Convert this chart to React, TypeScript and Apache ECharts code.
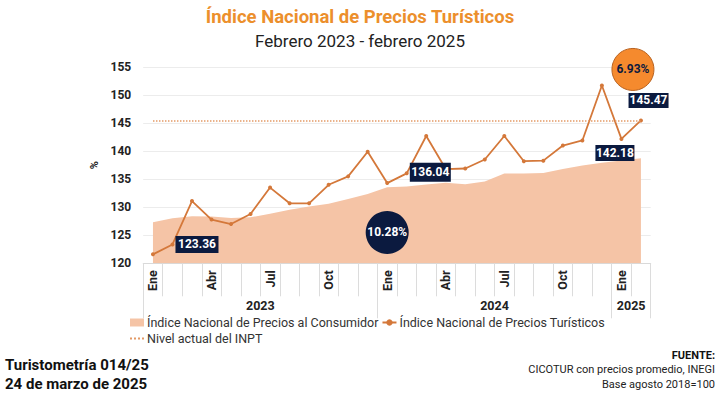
import React, { useEffect, useRef } from "react";
import * as echarts from "echarts";

const months = ["Ene","Feb","Mar","Abr","May","Jun","Jul","Ago","Sep","Oct","Nov","Dic","Ene","Feb","Mar","Abr","May","Jun","Jul","Ago","Sep","Oct","Nov","Dic","Ene","Feb"];
const yearLabels: Record<number, string> = { 6: "2023", 18: "2024", 25: "2025" };
const inpc = [127.34,128.05,128.39,128.36,128.08,128.21,128.83,129.55,130.12,130.61,131.45,132.37,133.56,133.68,134.07,134.34,134.09,134.59,136.0,136.01,136.08,136.83,137.42,137.95,138.34,138.73];
const inpt = [121.6,123.36,131.1,127.8,127.0,128.8,133.5,130.7,130.7,134.0,135.5,139.9,134.3,136.04,142.7,136.8,136.9,138.5,142.7,138.2,138.3,141.0,141.9,151.7,142.18,145.47];
const yTicks = { min: 120, max: 155, interval: 5 };

const NAVY = "#0b1a3f";
const LINE = "#d4783a";
const AREA = "#f5c4a6";
const FONT = "Roboto";

export default function App() {
  const ref = useRef<HTMLDivElement>(null);
  useEffect(() => {
    if (!ref.current) return;
    const chart = echarts.init(ref.current, null, { renderer: "svg" });
    const last = inpt.length - 1;
    const current = inpt[last];
    const pct1 = ((inpt[13] / inpt[1] - 1) * 100).toFixed(2) + "%";
    const pct2 = ((inpt[last] / inpt[13] - 1) * 100).toFixed(2) + "%";
    const boxLabel = {
      show: true,
      color: "#fff",
      fontWeight: "bold",
      fontSize: 12,
      fontFamily: FONT,
      formatter: (p: any) => Number(p.value).toFixed(2),
    };
    const n = months.length;
    chart.setOption({
      animation: false,
      textStyle: { fontFamily: FONT },
      title: [
        { text: "Índice Nacional de Precios Turísticos", left: "center", top: 7, padding: 0,
          textStyle: { color: "#ec8f2c", fontSize: 18.5, fontWeight: "bold", fontFamily: FONT } },
        { text: "Febrero 2023 - febrero 2025", left: "center", top: 32, padding: 0,
          textStyle: { color: "#222", fontSize: 17, fontWeight: "normal", fontFamily: FONT } },
        { text: "Turistometría 014/25", left: 5, top: 357, padding: 0,
          textStyle: { color: "#111", fontSize: 15, fontWeight: "bold", fontFamily: FONT } },
        { text: "24 de marzo de 2025", left: 5, top: 376, padding: 0,
          textStyle: { color: "#111", fontSize: 15, fontWeight: "bold", fontFamily: FONT } },
        { text: "FUENTE:", right: 5, top: 350, padding: 0,
          textStyle: { color: "#111", fontSize: 11, fontWeight: "bold", fontFamily: FONT } },
        { text: "CICOTUR con precios promedio, INEGI", right: 5, top: 364, padding: 0,
          textStyle: { color: "#222", fontSize: 11, fontWeight: "normal", fontFamily: FONT } },
        { text: "Base agosto 2018=100", right: 5, top: 379, padding: 0,
          textStyle: { color: "#222", fontSize: 11, fontWeight: "normal", fontFamily: FONT } },
      ],
      legend: {
        left: 129, top: 316, width: 482, padding: 0,
        itemWidth: 14, itemHeight: 8, itemGap: 3,
        textStyle: { fontSize: 12.5, color: "#333", fontFamily: FONT, padding: [0, 0, 0, -2] },
        data: [
          { name: "Índice Nacional de Precios al Consumidor", icon: "rect" },
          { name: "Índice Nacional de Precios Turísticos" },
          { name: "Nivel actual del INPT", itemStyle: { opacity: 0 } },
        ],
      },
      grid: { left: 143.2, right: 69.3, top: 67, bottom: 131.7 },
      xAxis: [
        {
          type: "category", data: months, boundaryGap: true,
          axisLine: { show: true, lineStyle: { color: "#d9d9d9" } },
          axisTick: { show: true, interval: 0, length: 33, lineStyle: { color: "#dcdcdc" } },
          axisLabel: { interval: 2, rotate: 90, margin: 7, fontSize: 12.5, fontWeight: "bold", color: "#222", fontFamily: FONT },
        },
        {
          type: "value", min: 0, max: n, interval: 1, position: "bottom",
          axisLine: { show: false }, axisTick: { show: false }, splitLine: { show: false },
          axisLabel: { margin: 36, fontSize: 12.5, fontWeight: "bold", color: "#222", fontFamily: FONT,
            formatter: (v: number) => yearLabels[v] || "" , showMinLabel: true, showMaxLabel: true },
        },
        {
          type: "value", min: 0, max: n, interval: 12, position: "bottom",
          axisLine: { show: false }, splitLine: { show: false }, axisLabel: { show: false },
          axisTick: { show: true, length: 55, lineStyle: { color: "#dcdcdc" } },
        },
      ],
      yAxis: {
        type: "value", min: yTicks.min, max: yTicks.max, interval: yTicks.interval,
        name: "%", nameLocation: "middle", nameGap: 40, nameRotate: 90,
        nameTextStyle: { fontSize: 11, fontWeight: "bold", color: "#222", fontFamily: FONT },
        axisLine: { show: false }, axisTick: { show: false },
        axisLabel: { margin: 12, fontSize: 12, fontWeight: "bold", color: "#222", fontFamily: FONT },
        splitLine: { lineStyle: { color: "#ececec", width: 1 } },
      },
      series: [
        {
          name: "Índice Nacional de Precios al Consumidor", type: "line", data: inpc,
          symbol: "none", lineStyle: { width: 0, color: AREA }, itemStyle: { color: AREA },
          areaStyle: { color: AREA, opacity: 1, origin: "start" }, z: 1,
        },
        {
          name: "Nivel actual del INPT", type: "line", data: [],
          symbol: "none", itemStyle: { color: "#e39a66" },
          lineStyle: { type: "dotted", color: "#e39a66", width: 1.3 },
          markLine: {
            silent: true, symbol: "none", label: { show: false },
            lineStyle: { type: "dotted", color: "#e39a66", width: 1.5 },
            data: [[{ coord: [0, current] }, { coord: [last, current] }]],
          },
          z: 2,
        },
        {
          name: "Índice Nacional de Precios Turísticos", type: "line", data: inpt,
          symbol: "circle", symbolSize: 4, showSymbol: true,
          lineStyle: { color: LINE, width: 1.8 }, itemStyle: { color: LINE },
          z: 3,
          markPoint: {
            silent: true,
            data: [
              { coord: [1, inpt[1]], value: inpt[1], symbol: "rect", symbolSize: [43, 17], symbolOffset: [24.5, 0],
                itemStyle: { color: NAVY }, label: boxLabel },
              { coord: [13, inpt[13]], value: inpt[13], symbol: "rect", symbolSize: [41, 19], symbolOffset: [23.6, -1],
                itemStyle: { color: NAVY }, label: boxLabel },
              { coord: [24, inpt[24]], value: inpt[24], symbol: "rect", symbolSize: [39, 16], symbolOffset: [-6.5, 14],
                itemStyle: { color: NAVY }, label: boxLabel },
              { coord: [last, inpt[last]], value: inpt[last], symbol: "rect", symbolSize: [40, 15], symbolOffset: [7.6, -20],
                itemStyle: { color: NAVY }, label: boxLabel },
              { coord: [12, 125.5], value: pct1, symbol: "circle", symbolSize: 43,
                itemStyle: { color: NAVY },
                label: { show: true, color: "#fff", fontWeight: "bold", fontSize: 12, fontFamily: FONT, formatter: pct1 } },
              { coord: [last, inpt[last]], value: pct2, symbol: "circle", symbolSize: 42, symbolOffset: [-8, -51],
                itemStyle: { color: "#f58a2e", borderColor: "#b9621f", borderWidth: 1 },
                label: { show: true, color: NAVY, fontWeight: "bold", fontSize: 12, fontFamily: FONT, formatter: pct2 } },
            ],
          },
        },
      ],
    });
    return () => chart.dispose();
  }, []);
  return <div ref={ref} style={{ position: "absolute", left: 0, top: 0, width: 720, height: 395 }} />;
}
